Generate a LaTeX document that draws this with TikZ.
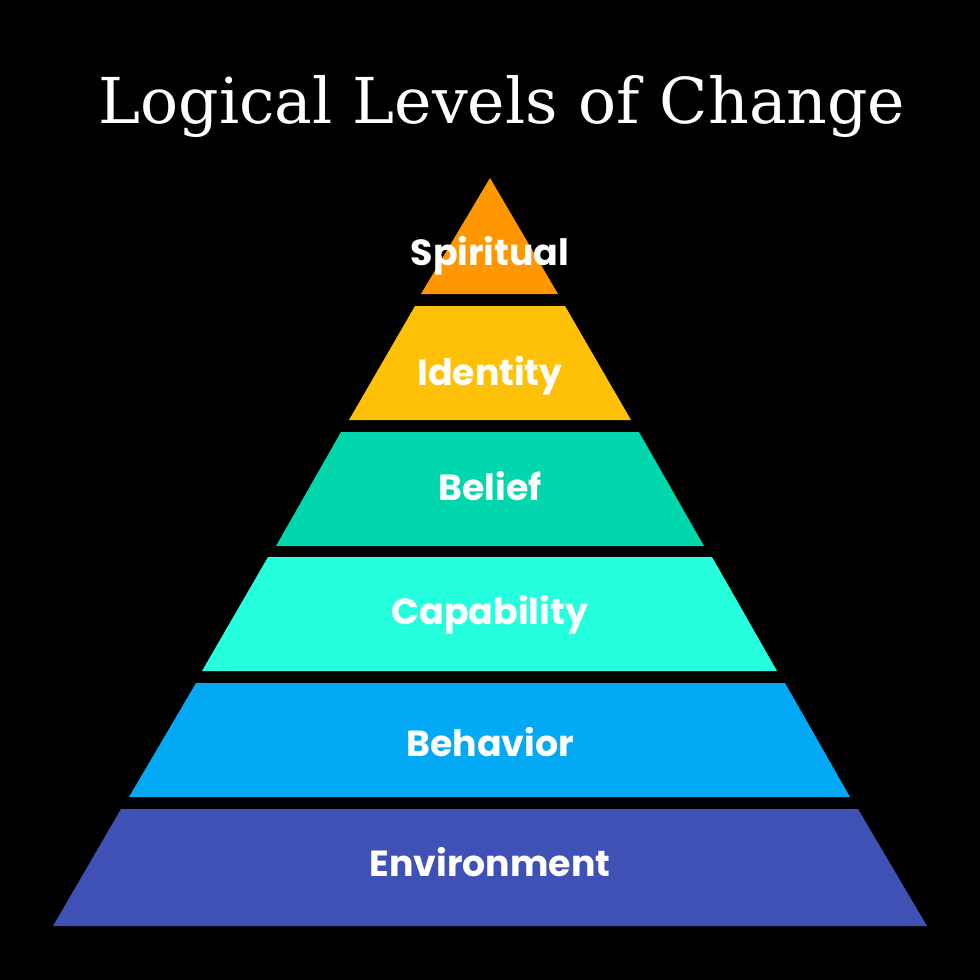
\documentclass[tikz,border=0pt]{standalone}
\usepackage{fontspec}
\newfontfamily\titlefont{DejaVu Serif}
\newfontfamily\levelfont{Poppins}
\definecolor{lvspirit}{HTML}{FF9800}
\definecolor{lvident}{HTML}{FFC107}
\definecolor{lvbelief}{HTML}{02D6AC}
\definecolor{lvcapab}{HTML}{26FFDD}
\definecolor{lvbehav}{HTML}{03A9F4}
\definecolor{lvenviron}{HTML}{3F51B5}
\usetikzlibrary{positioning}

\begin{document}
\begin{tikzpicture}[x=0.03cm, y=-0.03cm,
  tier/.style={draw=none},
  lvl/.style={font=\levelfont\bfseries\fontsize{31}{35}\selectfont, text=white,
              anchor=base, inner sep=0pt},
]
  \fill[black] (0,0) rectangle (980,980);
  \useasboundingbox (0,0) rectangle (980,980);

  % Title
  \node[font=\titlefont\fontsize{54}{62}\selectfont, text=white, anchor=base,
        inner sep=0pt] (title) at (502,123) {Logical Levels of Change};

  % Pyramid tiers
  \fill[tier, lvspirit] (490,178) -- (558,294) -- (421,294) -- cycle;
  \fill[tier, lvident] (415,306) -- (565,306) -- (631,420) -- (349,420) -- cycle;
  \fill[tier, lvbelief] (341,432) -- (639,432) -- (704,546) -- (276,546) -- cycle;
  \fill[tier, lvcapab] (268,557) -- (712,557) -- (777,671) -- (202,671) -- cycle;
  \fill[tier, lvbehav] (196,683) -- (785,683) -- (850,797) -- (129,797) -- cycle;
  \fill[tier, lvenviron] (121,809) -- (858,809) -- (927,926) -- (53,926) -- cycle;

  % Labels
  \node[lvl] (spiritual) at (490,265) {Spiritual};
  \node[lvl] (identity) at (490,385) {Identity};
  \node[lvl] (belief) at (490,500) {Belief};
  \node[lvl] (capability) at (490,624) {Capability};
  \node[lvl] (behavior) at (490,756) {Behavior};
  \node[lvl] (environment) at (490,876) {Environment};
\end{tikzpicture}
\end{document}
